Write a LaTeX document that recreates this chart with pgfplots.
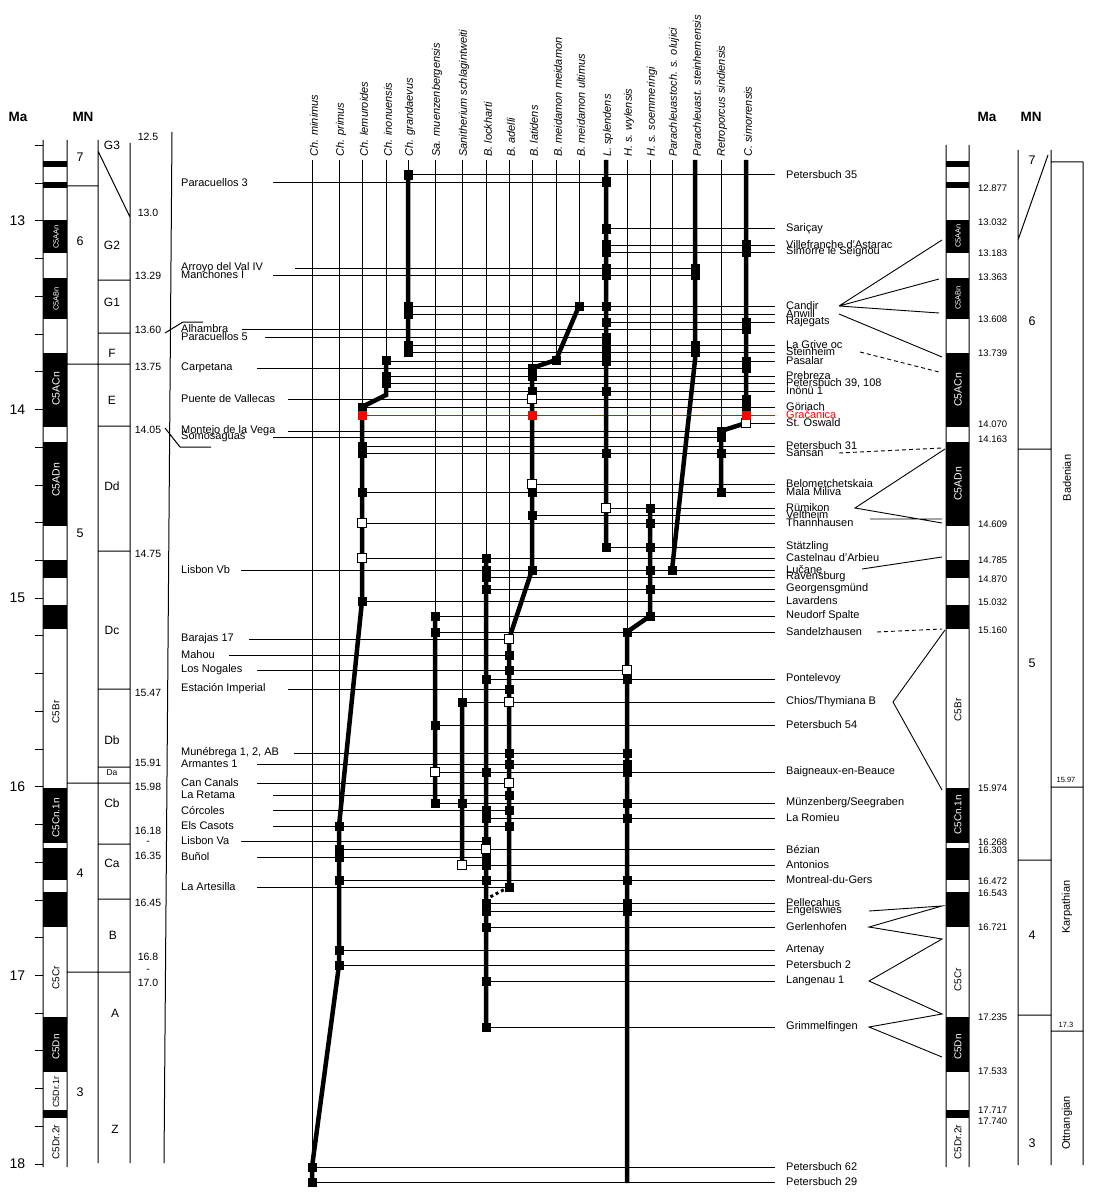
\documentclass[border=0pt]{standalone}
\usepackage{fontspec}
\setmainfont{Liberation Sans}
\usepackage{pgfplots}
\pgfplotsset{compat=1.18}

\newcommand\fs[1]{\fontsize{#1}{#1}\selectfont}
% locality labels: right side (x=786) and left side (x=181)
\newcommand\RL[2]{\node[loc] at (axis cs:786,#1) {#2};}
\newcommand\LL[2]{\node[loc] at (axis cs:181,#1) {#2};}
\newcommand\TX[2]{\node[taxon] at (axis cs:#1,157) {#2};}

\begin{document}
\begin{tikzpicture}[
  loc/.style={font=\fs{11}, inner sep=0pt, anchor=west},
  taxon/.style={font=\itshape\fs{11}, inner sep=0pt, anchor=west, rotate=90},
  age/.style={font=\fs{10.5}, inner sep=0pt},
  rage/.style={font=\fs{9.5}, inner sep=0pt, anchor=west},
  chron/.style={font=\fs{10}, inner sep=0pt, rotate=90},
  big/.style={font=\fs{14}, inner sep=0pt},
]
\begin{axis}[
  width=1095pt, height=1198pt, scale only axis,
  xmin=0, xmax=1095, ymin=0, ymax=1198, y dir=reverse,
  hide axis, clip=false, unbounded coords=jump,
]
\addplot[draw=none] coordinates {(0,0) (1095,1198)};

% ---------- magnetostratigraphy columns (black chrons) ----------
\addplot[black, line width=24pt] coordinates {
 (55,161)(55,167) (55,nan) (55,182)(55,188) (55,nan) (55,220)(55,253) (55,nan)
 (55,278)(55,319) (55,nan) (55,353)(55,427) (55,nan) (55,442)(55,526) (55,nan)
 (55,560)(55,578) (55,nan) (55,605)(55,629) (55,nan) (55,788)(55,843) (55,nan)
 (55,848)(55,880) (55,nan) (55,892)(55,927) (55,nan) (55,1017)(55,1072) (55,nan)
 (55,1110)(55,1118)};
\addplot[black, line width=23pt] coordinates {
 (957.5,161)(957.5,167) (957.5,nan) (957.5,182)(957.5,188) (957.5,nan) (957.5,220)(957.5,253) (957.5,nan)
 (957.5,278)(957.5,319) (957.5,nan) (957.5,353)(957.5,427) (957.5,nan) (957.5,442)(957.5,526) (957.5,nan)
 (957.5,560)(957.5,578) (957.5,nan) (957.5,605)(957.5,629) (957.5,nan) (957.5,788)(957.5,843) (957.5,nan)
 (957.5,848)(957.5,880) (957.5,nan) (957.5,892)(957.5,927) (957.5,nan) (957.5,1017)(957.5,1072) (957.5,nan)
 (957.5,1110)(957.5,1118)};

% ---------- column frames and zone lines ----------
\addplot[black, line width=1pt] coordinates {
 (43,140)(43,1167) (0,nan) (67,140)(67,1167) (0,nan) (98,140)(98,1163) (0,nan)
 (130,143)(130,1163) (0,nan) (172,132)(164,1163) (0,nan)
 (67,186)(98,186) (0,nan) (67,364)(130,364) (0,nan) (67,783)(130,783) (0,nan) (67,972)(130,972) (0,nan)
 (98,280)(130,280) (0,nan) (98,333)(130,333) (0,nan) (98,426)(130,426) (0,nan) (98,551)(130,551) (0,nan)
 (98,689)(130,689) (0,nan) (98,767)(130,767) (0,nan) (98,844)(130,844) (0,nan) (98,899)(130,899) (0,nan)
 (98,151)(130,217) (0,nan)
 (165,333)(183,322)(203,322) (0,nan) (165,428)(180,447)(211,447) (0,nan)
 (946,145)(946,1167) (0,nan) (969,145)(969,1167) (0,nan)
 (1018,150)(1018,1165) (0,nan) (1051,150)(1051,1165) (0,nan) (1083,162)(1083,1165) (0,nan)
 (1051,162)(1083,162) (0,nan) (1018,449)(1051,449) (0,nan) (1018,860)(1051,860) (0,nan)
 (1018,1015)(1051,1015) (0,nan) (1051,787)(1083,787) (0,nan) (1051,1031)(1083,1031) (0,nan)
 (1048,155)(1018,240)};
% Ma ticks
\addplot[black, line width=1pt] coordinates {
 (35,145.6)(43,145.6) (0,nan) (35,183.3)(43,183.3) (0,nan) (35,221)(43,221) (0,nan) (35,258.7)(43,258.7) (0,nan)
 (35,296.4)(43,296.4) (0,nan) (35,334.2)(43,334.2) (0,nan) (35,371.9)(43,371.9) (0,nan) (35,409.6)(43,409.6) (0,nan)
 (35,447.3)(43,447.3) (0,nan) (35,485)(43,485) (0,nan) (35,522.8)(43,522.8) (0,nan) (35,560.5)(43,560.5) (0,nan)
 (35,598.2)(43,598.2) (0,nan) (35,635.9)(43,635.9) (0,nan) (35,673.6)(43,673.6) (0,nan) (35,711.4)(43,711.4) (0,nan)
 (35,749.1)(43,749.1) (0,nan) (35,786.8)(43,786.8) (0,nan) (35,824.5)(43,824.5) (0,nan) (35,862.2)(43,862.2) (0,nan)
 (35,900)(43,900) (0,nan) (35,937.7)(43,937.7) (0,nan) (35,975.4)(43,975.4) (0,nan) (35,1013)(43,1013) (0,nan)
 (35,1050.8)(43,1050.8) (0,nan) (35,1088.5)(43,1088.5) (0,nan) (35,1126.2)(43,1126.2) (0,nan) (35,1164)(43,1164)};

% ---------- correlation lines (right) ----------
\addplot[black, line width=0.9pt] coordinates {
 (839,306)(942,240) (0,nan) (839,306)(939,279) (0,nan) (839,306)(939,313) (0,nan) (839,314)(942,357) (0,nan)
 (945,449)(855,508)(942,523) (0,nan) (870,519)(942,519) (0,nan) (862,569)(942,557) (0,nan)
 (945,630)(893,702)(942,790) (0,nan)
 (869,911)(942,906)(869,927)(942,939)(869,981)(942,1014)(869,1027)(942,1057)};
\addplot[black, line width=0.9pt, dash pattern=on 4pt off 3pt] coordinates {
 (860,352)(939,372) (0,nan) (839,453)(942,448) (0,nan) (877,632)(942,629)};

% ---------- thin taxon verticals ----------
\addplot[black, line width=1pt] coordinates {
 (312,160)(312,1182) (0,nan) (339,160)(339,826) (0,nan) (362,160)(362,407) (0,nan)
 (386,160)(386,360) (0,nan) (408,160)(408,175) (0,nan) (435,160)(435,616) (0,nan)
 (462,160)(462,702) (0,nan) (486,160)(486,558) (0,nan) (509,160)(509,639) (0,nan)
 (532,160)(532,368) (0,nan) (556,160)(556,360) (0,nan) (579,160)(579,306) (0,nan)
 (627,160)(627,632) (0,nan) (650,160)(650,508) (0,nan) (672,160)(672,570) (0,nan)
 (721,160)(721,431)};

% ---------- locality lines ----------
\addplot[black, line width=1pt] coordinates {
 (273,183)(606,183) (0,nan) (295,268)(695,268) (0,nan) (273,275)(695,275) (0,nan)
 (242,329)(746,329) (0,nan) (265,337)(606,337) (0,nan) (257,368)(746,368) (0,nan)
 (288,399)(746,399) (0,nan) (288,431)(721,431) (0,nan) (273,437)(721,437) (0,nan)
 (241,570)(775,570) (0,nan) (249,639)(509,639) (0,nan) (229,655)(509,655) (0,nan)
 (257,670)(627,670) (0,nan) (288,689)(509,689) (0,nan) (294,753)(627,753) (0,nan)
 (257,764)(627,764) (0,nan) (257,783)(509,783) (0,nan) (273,795)(509,795) (0,nan)
 (273,810)(509,810) (0,nan) (273,826)(509,826) (0,nan) (241,841)(486,841) (0,nan)
 (257,857)(486,857) (0,nan) (257,887)(509,887) (0,nan)
 (408,175)(775,175) (0,nan) (606,229)(775,229) (0,nan) (606,245)(775,245) (0,nan)
 (606,252)(775,252) (0,nan) (408,306)(775,306) (0,nan) (408,314)(775,314) (0,nan)
 (606,322)(775,322) (0,nan) (408,345)(775,345) (0,nan) (408,352)(775,352) (0,nan)
 (386,361)(775,361) (0,nan) (386,376)(775,376) (0,nan) (386,383)(775,383) (0,nan)
 (386,391)(775,391) (0,nan) (362,407)(775,407) (0,nan) (746,423)(775,423) (0,nan)
 (362,446)(775,446) (0,nan) (362,453)(775,453) (0,nan) (532,484)(775,484) (0,nan)
 (362,492)(775,492) (0,nan) (606,508)(775,508) (0,nan) (532,515)(775,515) (0,nan)
 (362,523)(775,523) (0,nan) (606,547)(775,547) (0,nan) (362,558)(775,558) (0,nan)
 (486,577)(775,577) (0,nan) (486,589)(775,589) (0,nan) (362,601)(775,601) (0,nan)
 (435,616)(775,616) (0,nan) (435,632)(775,632) (0,nan) (486,679)(775,679) (0,nan)
 (462,702)(775,702) (0,nan) (435,725)(775,725) (0,nan) (435,772)(775,772) (0,nan)
 (435,803)(775,803) (0,nan) (486,818)(775,818) (0,nan) (339,849)(775,849) (0,nan)
 (462,865)(775,865) (0,nan) (339,880)(775,880) (0,nan) (486,903)(775,903) (0,nan)
 (486,911)(775,911) (0,nan) (486,927)(775,927) (0,nan) (339,950)(775,950) (0,nan)
 (339,965)(775,965) (0,nan) (486,981)(775,981) (0,nan) (486,1027)(775,1027) (0,nan)
 (312,1167)(775,1167) (0,nan) (312,1182)(775,1182)};
\addplot[red, line width=1pt] coordinates {(362,415)(775,415)};

% ---------- stratigraphic ranges (thick) ----------
\addplot[black, line width=4.5pt] coordinates {
 (408,175)(408,355) (0,nan) (386,360)(386,395)(362,407) (0,nan)
 (362,407)(362,601)(339,826)(339,965)(312,1167)(312,1182) (0,nan)
 (435,616)(435,803) (0,nan) (462,702)(462,865) (0,nan) (486,558)(486,1027) (0,nan)
 (579,306)(556,360)(532,368)(532,570)(509,639)(509,887) (0,nan)
 (606,160)(606,547) (0,nan) (650,508)(650,616)(627,632)(627,1183) (0,nan)
 (695,160)(695,360)(672,570) (0,nan) (746,160)(746,423)(721,431)(721,492)};
\addplot[black, line width=3pt, dash pattern=on 3pt off 3pt] coordinates {(509,887)(490,897)};

% ---------- occurrences ----------
\addplot[only marks, mark=square*, mark size=4.3pt, black] coordinates {
 (408,175)(408,306)(408,314)(408,345)(408,352)
 (386,360)(386,376)(386,383)
 (362,407)(362,446)(362,453)(362,492)(362,601)
 (339,826)(339,849)(339,857)(339,880)(339,950)(339,965)
 (312,1167)(312,1182)
 (435,616)(435,632)(435,725)(435,803)
 (462,702)(462,803)
 (486,558)(486,570)(486,577)(486,589)(486,679)(486,772)(486,810)(486,818)(486,841)
 (486,857)(486,865)(486,880)(486,903)(486,911)(486,927)(486,981)(486,1027)
 (509,655)(509,670)(509,689)(509,753)(509,764)(509,795)(509,810)(509,826)(509,887)
 (532,368)(532,376)(532,391)(532,492)(532,515)(532,570)
 (556,360)(579,306)
 (606,182)(606,229)(606,245)(606,252)(606,268)(606,275)(606,306)(606,322)(606,337)
 (606,345)(606,352)(606,361)(606,391)(606,453)(606,547)
 (627,632)(627,679)(627,753)(627,764)(627,772)(627,803)(627,818)(627,880)(627,903)(627,911)
 (650,508)(650,523)(650,547)(650,570)(650,589)(650,616)
 (672,570)
 (695,268)(695,275)(695,345)(695,352)
 (721,431)(721,437)(721,453)(721,492)
 (746,245)(746,252)(746,322)(746,329)(746,361)(746,368)(746,399)(746,407)};
\addplot[only marks, mark=square*, mark size=4.3pt, draw=black, fill=white, line width=0.9pt] coordinates {
 (362,523)(362,558)(435,772)(462,865)(486,849)(509,639)(509,702)(509,783)
 (532,399)(532,484)(606,508)(627,670)(746,423)};
\addplot[only marks, mark=square*, mark size=4.3pt, red] coordinates {
 (362,415)(532,415)(746,415)};

% ---------- headers ----------
\node[font=\bfseries\fs{13.5}, inner sep=0pt] at (axis cs:18,117) {Ma};
\node[font=\bfseries\fs{13.5}, inner sep=0pt] at (axis cs:83,117) {MN};
\node[font=\bfseries\fs{13.5}, inner sep=0pt] at (axis cs:987,117) {Ma};
\node[font=\bfseries\fs{13.5}, inner sep=0pt] at (axis cs:1031,117) {MN};

% Ma labels
\node[big] at (axis cs:17.5,221) {13};
\node[big] at (axis cs:17.5,409.6) {14};
\node[big] at (axis cs:17.5,598.2) {15};
\node[big] at (axis cs:17.5,786.8) {16};
\node[big] at (axis cs:17.5,975.4) {17};
\node[big] at (axis cs:17.5,1164) {18};

% MN numbers left / right
\node[font=\fs{12.5}] at (axis cs:80,157) {7};
\node[font=\fs{12.5}] at (axis cs:80,241) {6};
\node[font=\fs{12.5}] at (axis cs:80,533) {5};
\node[font=\fs{12.5}] at (axis cs:80,873) {4};
\node[font=\fs{12.5}] at (axis cs:80,1092) {3};
\node[font=\fs{12.5}] at (axis cs:1032,160) {7};
\node[font=\fs{12.5}] at (axis cs:1032,321) {6};
\node[font=\fs{12.5}] at (axis cs:1032,663) {5};
\node[font=\fs{12.5}] at (axis cs:1032,935) {4};
\node[font=\fs{12.5}] at (axis cs:1032,1143) {3};

% local zones
\node[font=\fs{12}] at (axis cs:112,145) {G3};
\node[font=\fs{12}] at (axis cs:112,245) {G2};
\node[font=\fs{12}] at (axis cs:112,302) {G1};
\node[font=\fs{12}] at (axis cs:112,353) {F};
\node[font=\fs{12}] at (axis cs:112,400) {E};
\node[font=\fs{12}] at (axis cs:112,486) {Dd};
\node[font=\fs{12}] at (axis cs:112,630) {Dc};
\node[font=\fs{12}] at (axis cs:112,740) {Db};
\node[font=\fs{8.5}] at (axis cs:112,773) {Da};
\node[font=\fs{12}] at (axis cs:112,803) {Cb};
\node[font=\fs{12}] at (axis cs:112,863) {Ca};
\node[font=\fs{12}] at (axis cs:113,935) {B};
\node[font=\fs{12}] at (axis cs:115,1013) {A};
\node[font=\fs{12}] at (axis cs:115,1129) {Z};

% zone ages
\node[age] at (axis cs:148,137) {12.5};
\node[age] at (axis cs:148,213) {13.0};
\node[age] at (axis cs:148,276) {13.29};
\node[age] at (axis cs:148,330) {13.60};
\node[age] at (axis cs:148,367) {13.75};
\node[age] at (axis cs:148,430) {14.05};
\node[age] at (axis cs:148,554) {14.75};
\node[age] at (axis cs:148,693) {15.47};
\node[age] at (axis cs:148,763) {15.91};
\node[age] at (axis cs:148,787) {15.98};
\node[age] at (axis cs:148,831) {16.18};
\node[age] at (axis cs:148,843) {-};
\node[age] at (axis cs:148,856) {16.35};
\node[age] at (axis cs:148,903) {16.45};
\node[age] at (axis cs:148,957) {16.8};
\node[age] at (axis cs:148,971) {-};
\node[age] at (axis cs:148,983) {17.0};

% chron labels
\node[chron, white, font=\fs{7.5}] at (axis cs:56,237) {C5AAn};
\node[chron, white, font=\fs{7.5}] at (axis cs:56,299) {C5ABn};
\node[chron, white, font=\fs{10.5}] at (axis cs:56,389) {C5ACn};
\node[chron, white, font=\fs{10.5}] at (axis cs:56,480) {C5ADn};
\node[chron] at (axis cs:56,712) {C5Br};
\node[chron, white] at (axis cs:56,818) {C5Cn.1n};
\node[chron] at (axis cs:56,978) {C5Cr};
\node[chron, white] at (axis cs:56,1047) {C5Dn};
\node[chron, font=\fs{9}] at (axis cs:56,1092) {C5Dr.1r};
\node[chron] at (axis cs:56,1142) {C5Dr.2r};
\node[chron, white, font=\fs{7.5}] at (axis cs:958,236) {C5AAn};
\node[chron, white, font=\fs{7.5}] at (axis cs:958,298) {C5ABn};
\node[chron, white, font=\fs{10.5}] at (axis cs:958,390) {C5ACn};
\node[chron, white, font=\fs{10.5}] at (axis cs:958,484) {C5ADn};
\node[chron] at (axis cs:958,710) {C5Br};
\node[chron, white] at (axis cs:958,815) {C5Cn.1n};
\node[chron] at (axis cs:958,980) {C5Cr};
\node[chron, white] at (axis cs:958,1047) {C5Dn};
\node[chron] at (axis cs:958,1142) {C5Dr.2r};

% right chron ages
\node[rage] at (axis cs:978,188) {12.877};
\node[rage] at (axis cs:978,222) {13.032};
\node[rage] at (axis cs:978,253) {13.183};
\node[rage] at (axis cs:978,277) {13.363};
\node[rage] at (axis cs:978,319) {13.608};
\node[rage] at (axis cs:978,353) {13.739};
\node[rage] at (axis cs:978,424) {14.070};
\node[rage] at (axis cs:978,439) {14.163};
\node[rage] at (axis cs:978,524) {14.609};
\node[rage] at (axis cs:978,560) {14.785};
\node[rage] at (axis cs:978,579) {14.870};
\node[rage] at (axis cs:978,602) {15.032};
\node[rage] at (axis cs:978,630) {15.160};
\node[rage] at (axis cs:978,788) {15.974};
\node[rage] at (axis cs:978,842) {16.268};
\node[rage] at (axis cs:978,850) {16.303};
\node[rage] at (axis cs:978,881) {16.472};
\node[rage] at (axis cs:978,893) {16.543};
\node[rage] at (axis cs:978,927) {16.721};
\node[rage] at (axis cs:978,1017) {17.235};
\node[rage] at (axis cs:978,1071) {17.533};
\node[rage] at (axis cs:978,1110) {17.717};
\node[rage] at (axis cs:978,1121) {17.740};

% stages
\node[chron, font=\fs{11}] at (axis cs:1067,478) {Badenian};
\node[chron, font=\fs{11}] at (axis cs:1067,907) {Karpathian};
\node[chron, font=\fs{11}] at (axis cs:1067,1123) {Ottnangian};
\node[font=\fs{7.5}, inner sep=0pt] at (axis cs:1066,780) {15.97};
\node[font=\fs{7.5}, inner sep=0pt] at (axis cs:1066,1025) {17.3};

% taxa
\TX{314}{Ch. minimus}
\TX{341}{Ch. primus}
\TX{364}{Ch. lemuroides}
\TX{388}{Ch. inonuensis}
\TX{410}{Ch. grandaevus}
\TX{437}{Sa. muenzenbergensis}
\TX{464}{Sanitherium schlagintweiti}
\TX{488}{B. lockharti}
\TX{511}{B. adelli}
\TX{534}{B. latidens}
\TX{558}{B. meidamon meidamon}
\TX{581}{B. meidamon ultimus}
\TX{608}{L. splendens}
\TX{629}{H. s. wylensis}
\TX{652}{H. s. soemmeringi}
\TX{674}{Parachleuastoch. s. olujici}
\TX{697}{Parachleuast. steinhemensis}
\TX{722}{Retroporcus sindiensis}
\TX{748}{C. simorrensis}

% left localities
\LL{183}{Paracuellos 3}
\LL{268}{Arroyo del Val IV}
\LL{275}{Manchones I}
\LL{329}{Alhambra}
\LL{337}{Paracuellos 5}
\LL{368}{Carpetana}
\LL{399}{Puente de Vallecas}
\LL{431}{Montejo de la Vega}
\LL{437}{Somosaguas}
\LL{570}{Lisbon Vb}
\LL{639}{Barajas 17}
\LL{655}{Mahou}
\LL{670}{Los Nogales}
\LL{689}{Estación Imperial}
\LL{753}{Munébrega 1, 2, AB}
\LL{764}{Armantes 1}
\LL{783}{Can Canals}
\LL{795}{La Retama}
\LL{810}{Córcoles}
\LL{826}{Els Casots}
\LL{841}{Lisbon Va}
\LL{857}{Buñol}
\LL{887}{La Artesilla}

% right localities
\RL{175}{Petersbuch 35}
\RL{229}{Sariçay}
\RL{245}{Villefranche d’Astarac}
\RL{252}{Simorre le Seignou}
\RL{306}{Candir}
\RL{314}{Anwill}
\RL{322}{Rajegats}
\RL{345}{La Grive oc}
\RL{352}{Steinheim}
\RL{361}{Pasalar}
\RL{376}{Prebreza}
\RL{383}{Petersbuch 39, 108}
\RL{391}{Inönü 1}
\RL{407}{Göriach}
\node[loc, red] at (axis cs:786,415) {Gračanica};
\RL{423}{St. Oswald}
\RL{446}{Petersbuch 31}
\RL{453}{Sansan}
\RL{484}{Belometchetskaia}
\RL{492}{Mala Miliva}
\RL{508}{Rümikon}
\RL{515}{Veltheim}
\RL{523}{Thannhausen}
\RL{547}{Stätzling}
\RL{558}{Castelnau d’Arbieu}
\RL{570}{Lučane}
\RL{577}{Ravensburg}
\RL{589}{Georgensgmünd}
\RL{601}{Lavardens}
\RL{616}{Neudorf Spalte}
\RL{632}{Sandelzhausen}
\RL{679}{Pontelevoy}
\RL{702}{Chios/Thymiana B}
\RL{725}{Petersbuch 54}
\RL{772}{Baigneaux-en-Beauce}
\RL{803}{Münzenberg/Seegraben}
\RL{818}{La Romieu}
\RL{849}{Bézian}
\RL{865}{Antonios}
\RL{880}{Montreal-du-Gers}
\RL{903}{Pellecahus}
\RL{911}{Engelswies}
\RL{927}{Gerlenhofen}
\RL{950}{Artenay}
\RL{965}{Petersbuch 2}
\RL{981}{Langenau 1}
\RL{1027}{Grimmelfingen}
\RL{1167}{Petersbuch 62}
\RL{1182}{Petersbuch 29}
\end{axis}
\end{tikzpicture}
\end{document}
